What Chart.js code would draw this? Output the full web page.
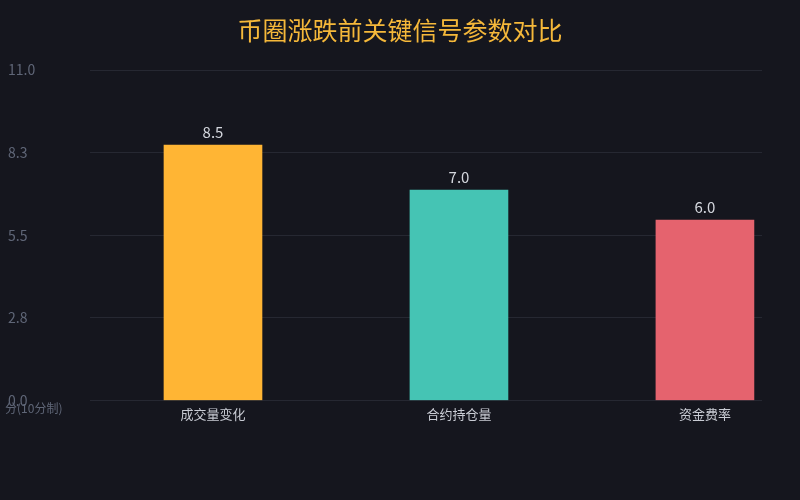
<!DOCTYPE html>
<html lang="zh">
<head>
    <meta charset="UTF-8">
    <title>币圈涨跌前关键信号参数对比</title>
    <script src="https://cdn.jsdelivr.net/npm/chart.js@4.4.1/dist/chart.umd.min.js"></script>
    <style>
        html, body { margin: 0; padding: 0; background: #15161e; }
        #wrap { width: 800px; height: 500px; position: relative; }
    </style>
</head>
<body>
<div id="wrap"><canvas id="chart"></canvas></div>
<script>
    // chart data
    const categories = ['成交量变化', '合约持仓量', '资金费率'];
    const scores = [8.5, 7.0, 6.0];
    const barColors = ['#ffb534', '#45c4b4', '#e5636e'];
    const yTicks = [0, 2.75, 5.5, 8.25, 11];
    const titleText = '币圈涨跌前关键信号参数对比';
    const yUnit = '分(10分制)';

    const FONT = '"Noto Sans CJK SC", "Noto Sans", sans-serif';

    // title centred on the canvas, value labels above bars, unit text under the y axis
    const extras = {
        id: 'extras',
        afterDatasetsDraw(chart) {
            const ctx = chart.ctx;
            const meta = chart.getDatasetMeta(0);
            ctx.save();
            ctx.font = '25px ' + FONT;
            ctx.fillStyle = '#f5b83a';
            ctx.textAlign = 'center';
            ctx.textBaseline = 'middle';
            ctx.fillText(titleText, chart.width / 2, 30);

            ctx.font = '15px ' + FONT;
            ctx.fillStyle = '#d4d7de';
            ctx.textBaseline = 'bottom';
            meta.data.forEach((bar, i) => {
                ctx.fillText(scores[i].toFixed(1), bar.x, bar.y - 5);
            });

            ctx.font = '12px ' + FONT;
            ctx.fillStyle = '#5f6677';
            ctx.textAlign = 'left';
            ctx.textBaseline = 'middle';
            ctx.fillText(yUnit, 5, chart.chartArea.bottom + 8);
            ctx.restore();
        }
    };

    new Chart(document.getElementById('chart'), {
        type: 'bar',
        data: {
            datasets: [{
                data: scores.map((v, i) => ({ x: i, y: v })),
                backgroundColor: barColors,
                borderWidth: 0,
                barThickness: 98
            }]
        },
        options: {
            responsive: true,
            maintainAspectRatio: false,
            animation: false,
            layout: { padding: { left: 8, right: 38, top: 70, bottom: 72 } },
            plugins: {
                legend: { display: false },
                tooltip: { enabled: false },
                title: { display: false }
            },
            scales: {
                x: {
                    type: 'linear',
                    offset: false,
                    min: -0.5,
                    max: 2.232,
                    afterBuildTicks: (s) => { s.ticks = categories.map((c, i) => ({ value: i })); },
                    ticks: {
                        color: '#c9ccd4',
                        font: { family: FONT, size: 13 },
                        padding: 6,
                        callback: (v) => categories[v]
                    },
                    grid: { display: false, drawTicks: false },
                    border: { display: false }
                },
                y: {
                    min: 0,
                    max: 11,
                    afterBuildTicks: (s) => { s.ticks = yTicks.map(v => ({ value: v })); },
                    afterFit: (s) => { s.width = 82; },
                    ticks: {
                        color: '#5f6677',
                        font: { family: FONT, size: 14 },
                        crossAlign: 'far',
                        padding: 8,
                        callback: (v) => v.toFixed(1)
                    },
                    grid: { color: '#262832', drawTicks: false },
                    border: { display: false }
                }
            }
        },
        plugins: [extras]
    });
</script>
</body>
</html>
